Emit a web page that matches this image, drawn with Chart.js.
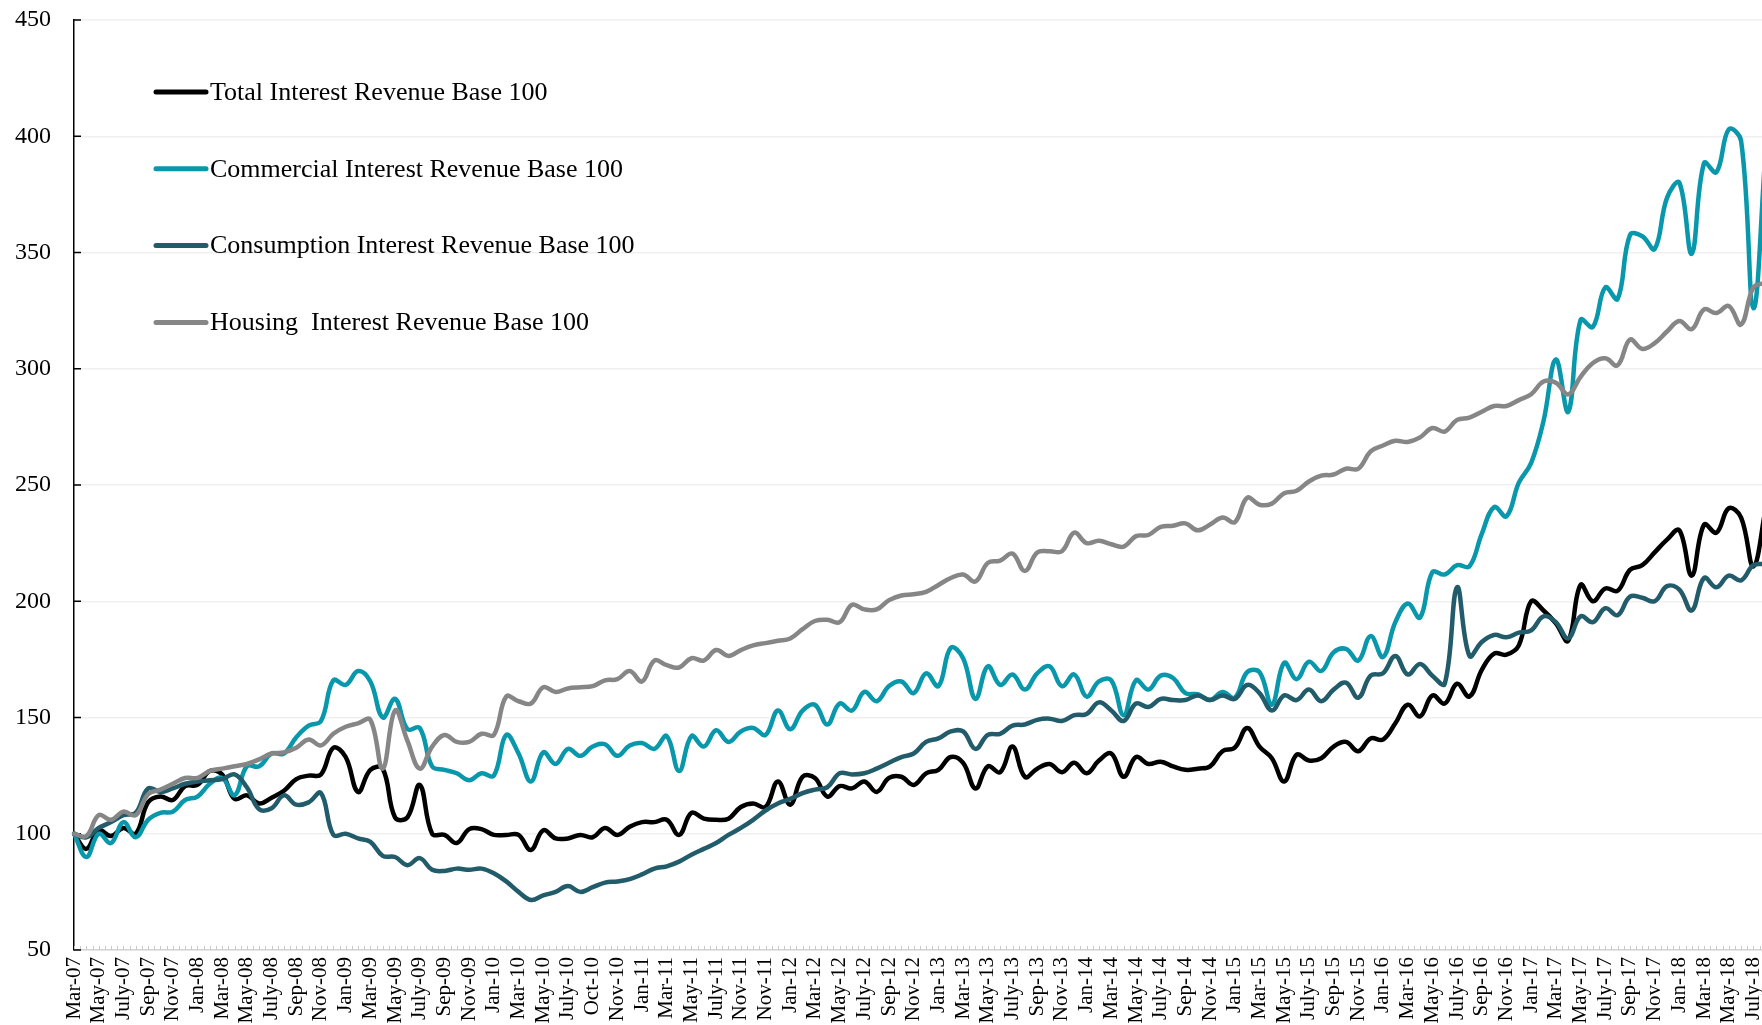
<!DOCTYPE html>
<html>
<head>
<meta charset="utf-8">
<script src="https://cdn.jsdelivr.net/npm/chart.js@4.4.1/dist/chart.umd.min.js"></script>
<style>
  html, body { margin: 0; padding: 0; background: #fff; overflow: hidden; }
  #wrap { width: 1798px; height: 1025px; }
</style>
</head>
<body>
<div id="wrap"><canvas id="interestChart"></canvas></div>
<script>
// monthly categories, Mar-07 .. Aug-18 (labels as they appear on the source axis)
const months = [
  "Mar-07","Apr-07","May-07","Jun-07","July-07","Aug-07","Sep-07","Oct-07","Nov-07","Dec-07",
  "Jan-08","Feb-08","Mar-08","Apr-08","May-08","Jun-08","July-08","Aug-08","Sep-08","Oct-08","Nov-08","Dec-08",
  "Jan-09","Feb-09","Mar-09","Apr-09","May-09","Jun-09","July-09","Aug-09","Sep-09","Oct-09","Nov-09","Dec-09",
  "Jan-10","Feb-10","Mar-10","Apr-10","May-10","Jun-10","July-10","Aug-10","Oct-10","Oct-10","Nov-10","Dec-10",
  "Jan-11","Feb-11","Mar-11","Apr-11","May-11","Jun-11","July-11","Aug-11","Nov-11","Oct-11","Nov-11","Dec-11",
  "Jan-12","Feb-12","Mar-12","Apr-12","May-12","Jun-12","July-12","Aug-12","Sep-12","Oct-12","Nov-12","Dec-12",
  "Jan-13","Feb-13","Mar-13","Apr-13","May-13","Jun-13","July-13","Aug-13","Sep-13","Oct-13","Nov-13","Dec-13",
  "Jan-14","Feb-14","Mar-14","Apr-14","May-14","Jun-14","July-14","Aug-14","Sep-14","Oct-14","Nov-14","Dec-14",
  "Jan-15","Feb-15","Mar-15","Apr-15","May-15","Jun-15","July-15","Aug-15","Sep-15","Oct-15","Nov-15","Dec-15",
  "Jan-16","Feb-16","Mar-16","Apr-16","May-16","Jun-16","July-16","Aug-16","Sep-16","Oct-16","Nov-16","Dec-16",
  "Jan-17","Feb-17","Mar-17","Apr-17","May-17","Jun-17","July-17","Aug-17","Sep-17","Oct-17","Nov-17","Dec-17",
  "Jan-18","Feb-18","Mar-18","Apr-18","May-18","Jun-18","July-18","Aug-18"
];

const totalRevenue = [
  100, 93.5, 101.5, 99, 102.5, 100, 113.5, 116, 114.5, 120.5,
  121, 127, 125.5, 115, 116.5, 113, 115.5, 118.5, 123.5, 125,
  125.5, 137, 133, 118, 127.5, 128, 107, 107, 121, 100,
  99.5, 96, 102, 102, 99.5, 99.5, 99.5, 93, 101.5, 98,
  98, 99.5, 98.5, 102.5, 99.5, 103, 105, 105, 106, 99.5,
  109, 106.5, 106, 106.5, 111.5, 113, 111.5, 122.5, 112.5, 124.5,
  124, 116, 120.5, 119.5, 122.5, 118, 124, 124.5, 121, 126,
  127.5, 133, 130.5, 119.5, 129, 126.5, 137.5, 124.5, 128, 130,
  126.5, 130.5, 126, 131.5, 134.5, 124.5, 133, 130, 131, 129,
  127.5, 128, 129, 135.5, 137, 145.5, 137.5, 132.5, 122.5, 134,
  131.5, 132.5, 137.5, 139.5, 135.5, 141, 140.5, 147.5, 155.5, 150.5,
  159.5, 156, 164.5, 159, 170.5, 177.5, 177, 181, 200, 196,
  190.5, 183, 207, 200, 205.5, 204.5, 213.5, 215.5, 221, 226.5,
  230.5, 211, 233, 229.5, 240, 236, 215, 240
];

const commercialRevenue = [
  100, 90, 100, 96, 105, 98.5, 106, 109, 109.5, 114.5,
  116, 121.5, 124, 116.5, 129, 129, 134.5, 134.5, 141.5, 146.5,
  148.5, 166, 164, 170, 165.5, 150, 158, 145, 145.5, 129,
  127.5, 126, 123, 126, 125, 142.5, 134.5, 122.5, 135, 130,
  136.5, 133.5, 137.5, 138.5, 133.5, 138, 139, 136.5, 142, 127,
  142, 137.5, 144.5, 139.5, 144, 145.5, 142.5, 153, 145, 153,
  155.5, 147, 156, 153, 161, 157, 163.5, 165.5, 160.5, 169,
  163.5, 180, 175.5, 158, 172, 164, 168.5, 162, 169, 172,
  163.5, 168.5, 159, 165.5, 166, 151, 166, 162, 168, 167,
  160.5, 160, 157.5, 161, 158.5, 169.5, 169.5, 155.5, 173.5, 166.5,
  174, 170, 178, 179.5, 174.5, 185, 176, 191, 199, 193,
  212.5, 211.5, 215.5, 215, 229, 240.5, 236.5, 251, 259.5, 277.5,
  304, 281.5, 321, 318, 335, 330, 357.5, 357, 351.5, 373.5,
  380, 349.5, 388.5, 384.5, 403, 398, 326, 395
];

const consumptionRevenue = [
  100, 98.5, 102.5, 105, 108, 109, 119.5, 118, 119.5, 121.5,
  122.5, 123, 123.5, 125.5, 120, 110.5, 111, 116.5, 112.5, 113.5,
  117.5, 99.5, 100, 98, 96.5, 90.5, 90, 86.5, 89.5, 84.5,
  84, 85, 84.5, 85, 83, 79.5, 75, 71.5, 73.5, 75,
  77.5, 75, 77, 79, 79.5, 80.5, 82.5, 85, 86, 88,
  91, 93.5, 96, 99.5, 102.5, 106, 110, 113, 115, 117.5,
  119, 120, 126, 125.5, 126, 128, 130.5, 133, 134.5, 139.5,
  141, 144, 144, 136.5, 142.5, 143, 146.5, 147, 149, 149.5,
  148.5, 151, 151.5, 156.5, 153, 148.5, 156, 154.5, 158, 157.5,
  157.5, 159.5, 157.5, 159.5, 158, 164, 160.5, 153, 159.5, 157.5,
  162, 157, 162, 165, 158.5, 168, 169, 176.5, 168.5, 173,
  168, 164.5, 206, 176.5, 182.5, 185.5, 184.5, 186.5, 187.5, 193.5,
  191, 184, 193.5, 191, 197, 194, 202, 201.5, 200, 206.5,
  205, 196, 210, 206, 211, 209, 215.5, 216
];

const housingRevenue = [
  100, 99, 108, 106, 109.5, 108, 117, 119, 121.5, 124,
  124, 127, 128, 129, 130, 132, 134.5, 135, 137, 140.5,
  138, 143, 146, 147.5, 149, 128, 153, 140, 128, 137.5,
  142.5, 139.5, 139.5, 143, 142.5, 159, 157, 156, 163, 161,
  162.5, 163, 163.5, 166, 166.5, 170, 165.5, 174.5, 172.5, 171.5,
  175.5, 174.5, 179, 176.5, 179, 181, 182, 183, 184, 188,
  191.5, 192, 191, 198.5, 196.5, 196.5, 200.5, 202.5, 203, 204,
  207, 210, 211.5, 208.5, 216.5, 217.5, 220.5, 213, 221, 221.5,
  221.5, 229.5, 225, 226, 224.5, 223.5, 228, 228.5, 232, 232.5,
  233.5, 230.5, 233, 236, 234, 244.5, 241.5, 242, 246.5, 247.5,
  251.5, 254, 254.5, 257, 257, 264.5, 267, 269, 268.5, 270.5,
  274.5, 273, 278, 279, 281.5, 284, 284, 286.5, 289, 294.5,
  294, 289, 296.5, 302.5, 304.5, 301.5, 312.5, 308.5, 311, 316,
  320.5, 317, 325.5, 324, 327, 319, 335, 337
];

const yTicks = [50, 100, 150, 200, 250, 300, 350, 400, 450];

Chart.defaults.font.family = "'Liberation Serif', 'DejaVu Serif', serif";
Chart.defaults.color = "#000";

// small inward tick marks on both axes, like the spreadsheet original
const innerTicks = {
  id: "innerTicks",
  beforeDatasetsDraw(chart) {
    const ctx = chart.ctx;
    const x = chart.scales.x;
    const y = chart.scales.y;
    const area = chart.chartArea;
    ctx.save();
    ctx.strokeStyle = "#c9c9c9";
    ctx.lineWidth = 1;
    for (let i = 0; i < months.length - 1; i++) {
      const a = x.getPixelForValue(i);
      const b = x.getPixelForValue(i + 1);
      [a, (a + b) / 2].forEach(function(px) {
        ctx.beginPath();
        ctx.moveTo(Math.round(px) + 0.5, area.bottom);
        ctx.lineTo(Math.round(px) + 0.5, area.bottom - 4);
        ctx.stroke();
      });
    }
    ctx.strokeStyle = "#000";
    ctx.lineWidth = 1.5;
    yTicks.forEach(function(v) {
      const py = y.getPixelForValue(v);
      ctx.beginPath();
      ctx.moveTo(area.left, py);
      ctx.lineTo(area.left + 7, py);
      ctx.stroke();
    });
    ctx.restore();
  }
};

// legend stacked inside the plot, top left
const insideLegend = {
  id: "insideLegend",
  afterDraw(chart) {
    const ctx = chart.ctx;
    const area = chart.chartArea;
    ctx.save();
    ctx.font = "26px 'Liberation Serif'";
    ctx.textBaseline = "middle";
    chart.data.datasets.forEach(function(ds, k) {
      const yy = area.top + 72 + k * 76.8;
      ctx.strokeStyle = ds.borderColor;
      ctx.lineWidth = 5;
      ctx.lineCap = "round";
      ctx.beginPath();
      ctx.moveTo(area.left + 82, yy);
      ctx.lineTo(area.left + 132, yy);
      ctx.stroke();
      ctx.fillStyle = "#000";
      ctx.fillText(ds.label, area.left + 136, yy + 1);
    });
    ctx.restore();
  }
};

const interestData = {
  labels: months,
  datasets: [
    { label: "Total Interest Revenue Base 100", data: totalRevenue, borderColor: "#000000", order: 4 },
    { label: "Commercial Interest Revenue Base 100", data: commercialRevenue, borderColor: "#0897AB", order: 3 },
    { label: "Consumption Interest Revenue Base 100", data: consumptionRevenue, borderColor: "#225C6B", order: 2 },
    { label: "Housing  Interest Revenue Base 100", data: housingRevenue, borderColor: "#868686", order: 1 }
  ]
};

const interestConfig = {
  type: "line",
  data: interestData,
  options: {
    responsive: true,
    maintainAspectRatio: false,
    animation: false,
    layout: { padding: { left: 0, right: 0, top: 20, bottom: 0 } },
    elements: {
      point: { radius: 0, hoverRadius: 0 },
      line: { borderWidth: 4.5, tension: 0.4, fill: false, borderCapStyle: "round", borderJoinStyle: "round" }
    },
    plugins: {
      legend: { display: false },
      tooltip: { enabled: false }
    },
    scales: {
      x: {
        offset: false,
        grid: { display: false, drawTicks: false },
        border: { display: true, color: "#d4d4d4", width: 1.5 },
        ticks: {
          autoSkip: false,
          maxRotation: 90,
          minRotation: 90,
          padding: 7,
          font: { size: 21 },
          callback: function(value, index) {
            return (index % 2 === 0 && index < months.length - 1) ? months[index] : "";
          }
        },
        afterFit: function(scale) { scale.height = 75; }
      },
      y: {
        min: 50,
        max: 450,
        afterBuildTicks: function(scale) {
          scale.ticks = yTicks.map(function(v) { return { value: v }; });
        },
        grid: { color: "#f0f0f0", lineWidth: 1.5, drawTicks: true, tickLength: 20, tickColor: "rgba(0,0,0,0)" },
        border: { color: "#000", width: 1.5 },
        ticks: { padding: 3, font: { size: 24 } },
        afterFit: function(scale) { scale.width = 74; }
      }
    }
  },
  plugins: [innerTicks, insideLegend]
};

var interestChart = new Chart(
  document.getElementById("interestChart"),
  interestConfig
);
</script>
</body>
</html>
